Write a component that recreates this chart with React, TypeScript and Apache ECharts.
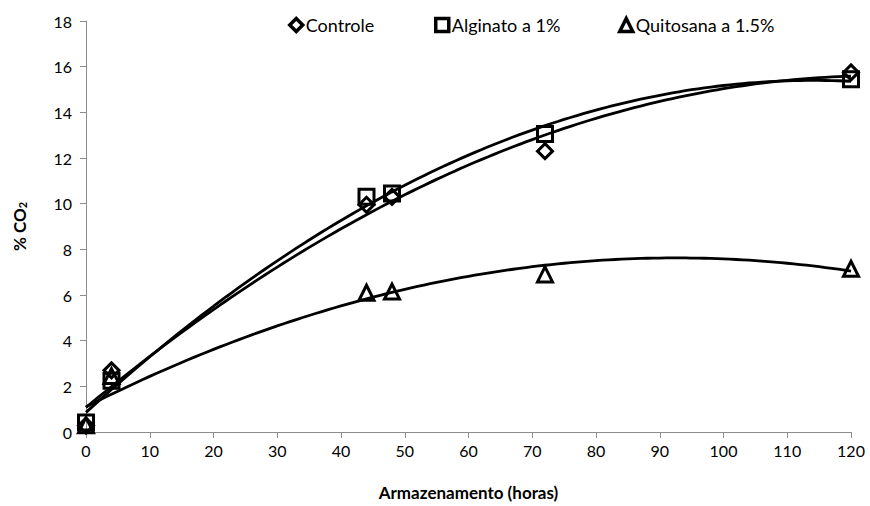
import React, { useEffect, useRef } from "react";
import * as echarts from "echarts";

// Storage time (hours)
const hours = [0, 4, 44, 48, 72, 120];
// % CO2 per treatment
const controle = [0.28, 2.7, 9.95, 10.3, 12.3, 15.75];
const alginato = [0.42, 2.25, 10.3, 10.45, 13.05, 15.45];
const quitosana = [0.3, 2.45, 6.1, 6.15, 6.9, 7.15];

const seriesNames = ["Controle", "Alginato a 1%", "Quitosana a 1.5%"];
const xTicks = { min: 0, max: 120, interval: 10 };
const yTicks = { min: 0, max: 18, interval: 2 };

// Second-order least-squares fit (as a spreadsheet polynomial trendline)
function quadFit(xs: number[], ys: number[]): [number, number, number] {
  let s0 = 0, s1 = 0, s2 = 0, s3 = 0, s4 = 0, t0 = 0, t1 = 0, t2 = 0;
  xs.forEach((x, i) => {
    const y = ys[i];
    s0 += 1; s1 += x; s2 += x * x; s3 += x * x * x; s4 += x * x * x * x;
    t0 += y; t1 += x * y; t2 += x * x * y;
  });
  const m = [
    [s0, s1, s2, t0],
    [s1, s2, s3, t1],
    [s2, s3, s4, t2],
  ];
  for (let c = 0; c < 3; c++) {
    for (let r = c + 1; r < 3; r++) {
      const f = m[r][c] / m[c][c];
      for (let k = c; k < 4; k++) m[r][k] -= f * m[c][k];
    }
  }
  const b = [0, 0, 0];
  for (let r = 2; r >= 0; r--) {
    let v = m[r][3];
    for (let k = r + 1; k < 3; k++) v -= m[r][k] * b[k];
    b[r] = v / m[r][r];
  }
  return [b[0], b[1], b[2]];
}

function trend(ys: number[]): number[][] {
  const [a, b, c] = quadFit(hours, ys);
  const pts: number[][] = [];
  for (let x = hours[0]; x <= hours[hours.length - 1]; x += 1) {
    pts.push([x, a + b * x + c * x * x]);
  }
  return pts;
}

const font = "Lato, 'Open Sans', sans-serif";
const legendLefts = [283, 429, 613];

export default function App() {
  const ref = useRef<HTMLDivElement>(null);

  useEffect(() => {
    if (!ref.current) return;
    const chart = echarts.init(ref.current, undefined, { renderer: "svg" });

    const markerStyle = {
      color: "rgba(255,255,255,0)",
      borderColor: "#000",
      borderWidth: 3,
      opacity: 1,
    };
    const scatter = (name: string, ys: number[], symbol: string, size: number) => ({
      name,
      type: "scatter",
      symbol,
      symbolSize: size,
      itemStyle: markerStyle,
      data: hours.map((h, i) => [h, ys[i]]),
      z: 3,
    });
    const line = (ys: number[]) => ({
      type: "line",
      data: trend(ys),
      showSymbol: false,
      symbol: "none",
      lineStyle: { color: "#000", width: 2.8 },
      silent: true,
      z: 2,
    });

    chart.setOption({
      animation: false,
      backgroundColor: "#fff",
      grid: { left: 86, right: 19, top: 21, bottom: 70 },
      legend: seriesNames.map((n, i) => ({
        data: [n],
        top: 11,
        left: legendLefts[i],
        itemWidth: 13,
        itemHeight: 13,
        itemStyle: {
          borderWidth: 3.5,
          borderColor: "#000",
          color: "rgba(255,255,255,0)",
          opacity: 1,
        },
        textStyle: { fontFamily: font, fontSize: 18, color: "#000", padding: [0, 0, 0, -2] },
      })),
      xAxis: {
        type: "value",
        ...xTicks,
        name: "Armazenamento (horas)",
        nameLocation: "middle",
        nameGap: 52,
        nameTextStyle: {
          fontFamily: font,
          fontSize: 17,
          fontWeight: "bold",
          color: "#000",
        },
        axisLine: { show: true, lineStyle: { color: "#8c8c8c", width: 1 } },
        axisTick: { show: true, inside: false, length: 6, lineStyle: { color: "#8c8c8c" } },
        axisLabel: { fontFamily: font, fontSize: 16, color: "#000", margin: 10 },
        splitLine: { show: false },
      },
      yAxis: {
        type: "value",
        ...yTicks,
        name: "{a|% CO}{b|2}",
        nameLocation: "middle",
        nameGap: 58,
        nameRotate: 90,
        nameTextStyle: {
          rich: {
            a: { fontFamily: font, fontSize: 17, fontWeight: "bold", color: "#000" },
            b: {
              fontFamily: font,
              fontSize: 11,
              fontWeight: "bold",
              color: "#000",
              verticalAlign: "bottom",
              padding: [6, 0, 0, 0],
            },
          },
        },
        axisLine: { show: true, lineStyle: { color: "#8c8c8c", width: 1 } },
        axisTick: { show: true, inside: false, length: 6, lineStyle: { color: "#8c8c8c" } },
        axisLabel: { fontFamily: font, fontSize: 16, color: "#000", margin: 14 },
        splitLine: { show: false },
      },
      series: [
        line(controle),
        line(alginato),
        line(quitosana),
        scatter(seriesNames[0], controle, "diamond", 15),
        scatter(seriesNames[1], alginato, "rect", 15),
        scatter(seriesNames[2], quitosana, "triangle", 15),
      ],
    });

    return () => chart.dispose();
  }, []);

  return (
    <div
      ref={ref}
      style={{ position: "absolute", left: 0, top: 0, width: 870, height: 506 }}
    />
  );
}
